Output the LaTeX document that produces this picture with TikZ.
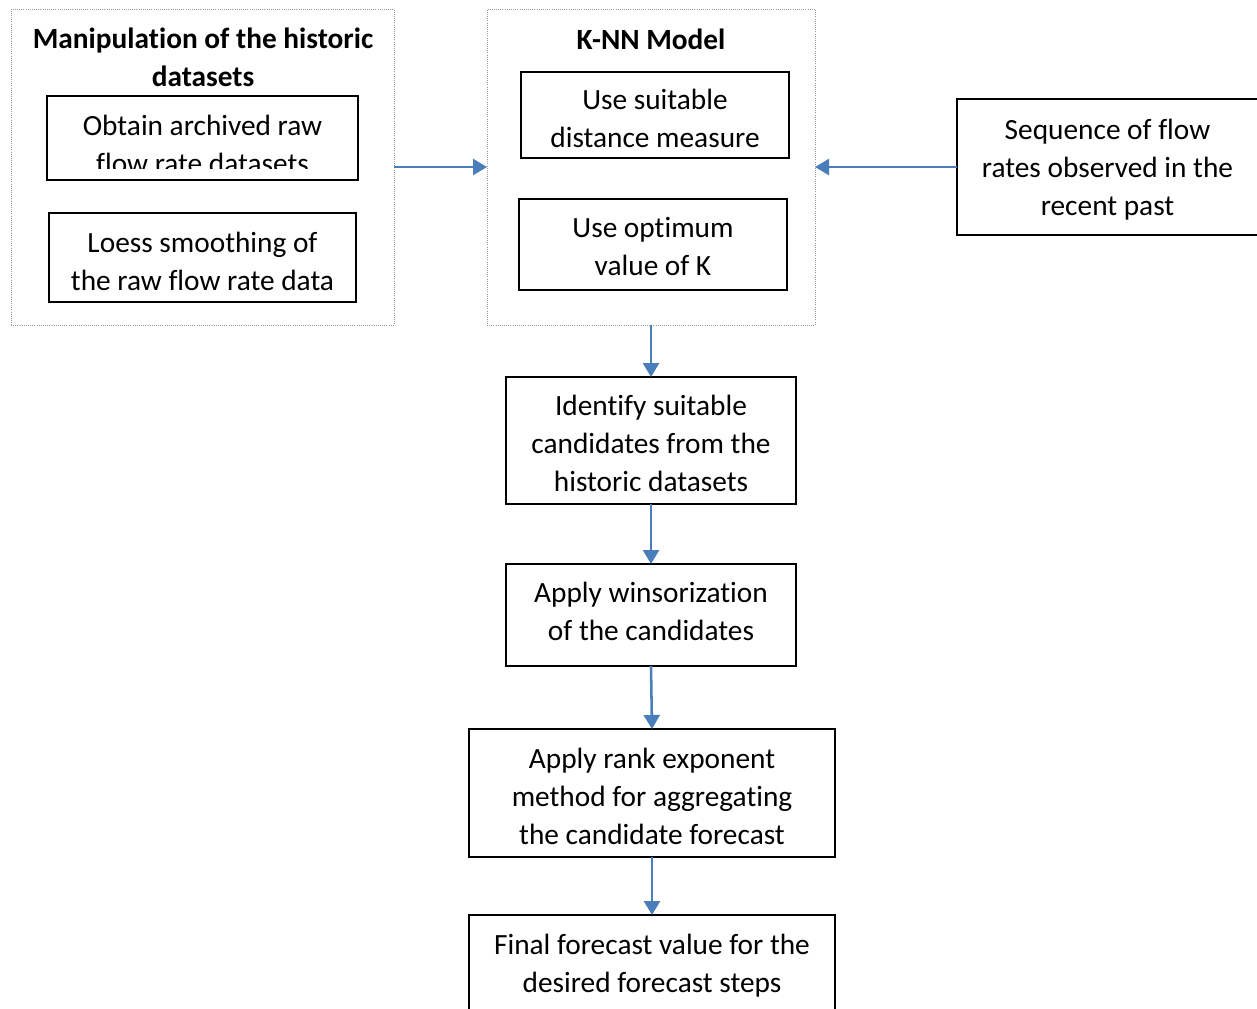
\documentclass[tikz,border=0pt]{standalone}
\usepackage{fontspec}
\setmainfont{Carlito}[Ligatures=NoCommon]
\usetikzlibrary{arrows.meta}
\definecolor{arrblue}{HTML}{4A7EBB}
\tikzset{
  every node/.style={font=\fontsize{22}{28.5}\selectfont, inner sep=0pt, outer sep=0pt},
  box/.style={draw=black, line width=1pt},
  grp/.style={draw=gray!80, densely dotted, line width=0.6pt},
  flow/.style={draw=arrblue, line width=1.9pt, -{Triangle[length=10.5pt,width=12pt]}},
  ttl/.style={font=\bfseries\fontsize{22}{28.5}\selectfont, align=center},
  txt/.style={align=center}
}
\begin{document}
\begin{tikzpicture}[x=0.75pt,y=-0.75pt]
\clip (0,0) rectangle (1257,1008);
\fill[white] (0,0) rectangle (1257,1008);
% group boxes
\node[grp, minimum width=287.25pt, minimum height=237pt] (gL) at (202.5,167) {};
\node[grp, minimum width=246pt, minimum height=237pt] (gM) at (651,167) {};
% titles
\node[ttl] (tL) at (203,57) {Manipulation of the historic\\datasets};
\node[ttl] (tM) at (651,39) {K-NN Model};
% left inner boxes
\node[box, minimum width=233.25pt, minimum height=63pt] (b1) at (202.5,138) {};
\begin{scope}
\clip (47,96) rectangle (358,168);
\node[txt] (b1t) at (202.5,144) {Obtain archived raw\\flow rate datasets};
\end{scope}
\node[box, minimum width=230.25pt, minimum height=66.75pt] (b2) at (202.5,257.5) {};
\node[txt] (b2t) at (202.5,261.5) {Loess smoothing of\\the raw flow rate data};
% middle inner boxes
\node[box, minimum width=201pt, minimum height=64.5pt] (b3) at (655,115) {};
\node[txt] (b3t) at (655,118) {Use suitable\\distance measure};
\node[box, minimum width=201pt, minimum height=68.25pt] (b4) at (653,244.5) {};
\node[txt] (b4t) at (653,246.5) {Use optimum\\value of K};
% right box
\node[box, minimum width=226.5pt, minimum height=102pt] (rb) at (1108,167) {};
\node[txt] (rbt) at (1107.5,170) {Sequence of flow\\rates observed in the\\recent past};
% flow boxes
\node[box, minimum width=217.5pt, minimum height=95.25pt] (b5) at (651,440.5) {};
\node[txt] (b5t) at (651,443.5) {Identify suitable\\candidates from the\\historic datasets};
\node[box, minimum width=217.5pt, minimum height=76.5pt] (b6) at (651,615) {};
\node[txt] (b6t) at (651,611) {Apply winsorization\\of the candidates};
\node[box, minimum width=274.5pt, minimum height=96pt] (b7) at (652,793) {};
\node[txt] (b7t) at (652,796) {Apply rank exponent\\method for aggregating\\the candidate forecast};
\node[box, minimum width=274.5pt, minimum height=75pt] (b8) at (652,965) {};
\node[txt] (b8t) at (652,966) {Final forecast value for the\\desired forecast steps};
% connectors
\draw[flow] (gL.east) -- (gM.west);
\draw[flow] (rb.west) -- (gM.east);
\draw[flow] (gM.south) -- (b5.north);
\draw[flow] (b5.south) -- (b6.north);
\draw[flow] (b6.south) -- (b7.north);
\draw[flow] (b7.south) -- (b8.north);
\end{tikzpicture}
\end{document}
